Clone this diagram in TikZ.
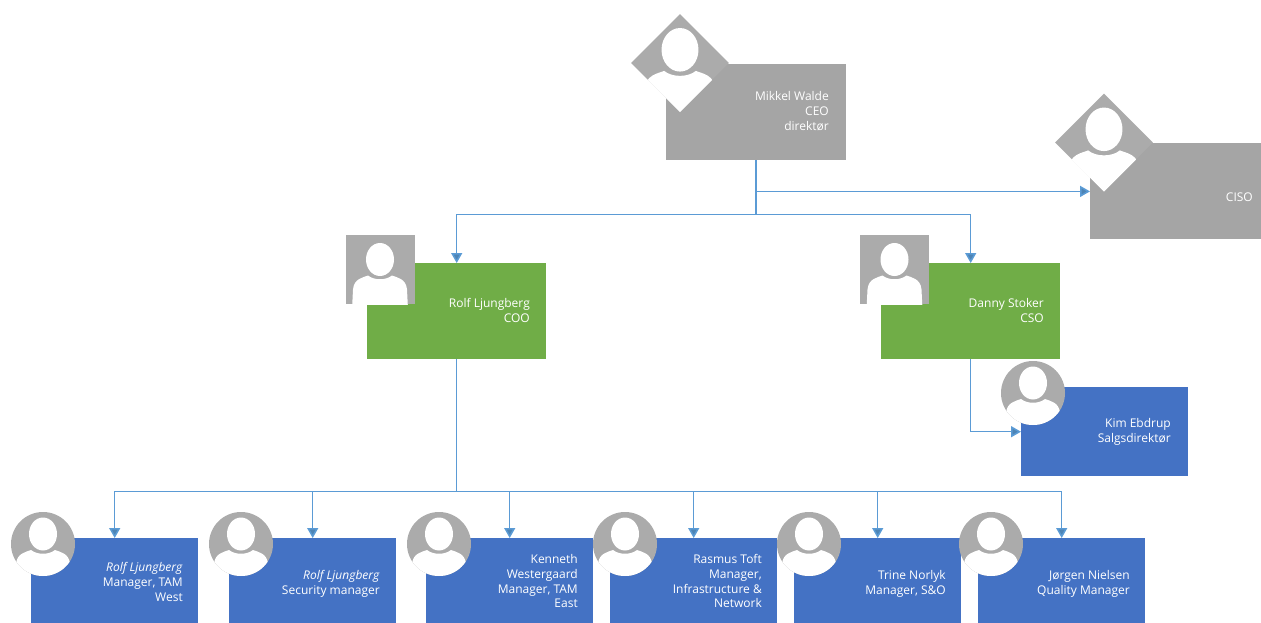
\documentclass[tikz,border=0pt]{standalone}
\usepackage{fontspec}
\setmainfont{Open Sans}
\usetikzlibrary{arrows.meta,shapes.geometric,calc}
\definecolor{bgray}{HTML}{A5A5A5}
\definecolor{bgreen}{HTML}{70AD47}
\definecolor{bblue}{HTML}{4472C4}
\definecolor{avgray}{HTML}{ABABAB}
\definecolor{conn}{HTML}{5B9BD5}
\tikzset{
  x=1pt,y=-1pt,
  box/.style={rectangle,draw=none,inner sep=0pt,anchor=north west},
  graybox/.style={box,fill=bgray,minimum width=180pt,minimum height=96pt},
  cisobox/.style={box,fill=bgray,minimum width=171pt,minimum height=96pt},
  greenbox/.style={box,fill=bgreen,minimum width=179pt,minimum height=96pt},
  bluebox/.style={box,fill=bblue,minimum width=167pt,minimum height=89pt},
  lbl/.style={anchor=north east,align=right,text=white,inner sep=0pt,yshift=-2.5pt,font=\fontsize{12pt}{14.7pt}\selectfont},
  link/.style={draw=conn,line width=1.5pt},
  arrowlink/.style={link,-{Triangle[length=10pt,width=11pt,fill=conn!85!black]}},
  avcircle/.style={circle,fill=avgray,inner sep=0pt,minimum size=64pt},
  avsquare/.style={rectangle,fill=avgray,inner sep=0pt,minimum width=69pt,minimum height=69pt},
  avdiamond/.style={diamond,fill=avgray,inner sep=0pt,minimum width=98pt,minimum height=98pt,aspect=1},
  silhouette/.pic={
    \fill[white] (0,-10) ellipse [x radius=14,y radius=16.5];
    \fill[white] (-28,40) -- (-27,20) .. controls (-26,9) and (-17,8) .. (-12,6)
      .. controls (-6,11) and (6,11) .. (12,6)
      .. controls (17,8) and (26,9) .. (27,20) -- (28,40) -- cycle;
  }
}
\begin{document}
\begin{tikzpicture}
\useasboundingbox (0,0) rectangle (1261,623);
% boxes
\node[graybox] (ceo) at (666,64) {};
\node[cisobox] (ciso) at (1090,143) {};
\node[greenbox] (coo) at (367,263) {};
\node[greenbox] (cso) at (881,263) {};
\node[bluebox] (kim) at (1021,387) {};
\node[bluebox] (m1) at (31,538) {};
\node[bluebox] (m2) at (229,538) {};
\node[bluebox] (m3) at (426,538) {};
\node[bluebox] (m4) at (610,538) {};
\node[bluebox] (m5) at (794,538) {};
\node[bluebox] (m6) at (978,538) {};
% junctions
\coordinate (jceo) at ($(ceo.south)+(0,54)$);
\coordinate (jciso) at ($(ceo.south)+(0,31)$);
\coordinate (jcoo) at ($(coo.south)+(0,132)$);
% connectors
\draw[link] (ceo.south) -- (jceo);
\draw[arrowlink] (jceo) -| (coo.north);
\draw[arrowlink] (jceo) -| (cso.north);
\draw[arrowlink] (jciso) -- (ciso.west |- jciso);
\draw[link] (coo.south) -- (jcoo);
\foreach \t in {m1,m2,m3,m4,m5,m6}
  \draw[arrowlink] (jcoo) -| (\t.north);
\draw[arrowlink] (cso.south) |- (kim.west);
% avatars
\node[avdiamond] (aceo) at (680,63) {};
\begin{scope}
  \clip (aceo.north) -- (aceo.east) -- (aceo.south) -- (aceo.west) -- cycle;
  \pic[scale=1.32] at (aceo.center) {silhouette};
\end{scope}
\node[avdiamond] (aciso) at (1104,142.5) {};
\begin{scope}
  \clip (aciso.north) -- (aciso.east) -- (aciso.south) -- (aciso.west) -- cycle;
  \pic[scale=1.32] at (aciso.center) {silhouette};
\end{scope}
\node[avsquare] (acoo) at (380,269.5) {};
\begin{scope}
  \clip (acoo.south west) rectangle (acoo.north east);
  \pic at (acoo.center) {silhouette};
\end{scope}
\node[avsquare] (acso) at (894.5,269.5) {};
\begin{scope}
  \clip (acso.south west) rectangle (acso.north east);
  \pic at (acso.center) {silhouette};
\end{scope}
\foreach \n/\x/\y in {akim/1033/393,a1/43/544,a2/241/544,a3/439/544,a4/625/544,a5/809/544,a6/991/544}{
  \node[avcircle] (\n) at (\x,\y) {};
  \begin{scope}
    \clip (\n) circle [radius=32];
    \pic at (\n.center) {silhouette};
  \end{scope}
}
% labels
\node[lbl] (tceo) at (829,89) {Mikkel Walde\\CEO\\direktør};
\node[lbl] (tciso) at (1253,190) {CISO};
\node[lbl] (tcoo) at (530,296) {Rolf Ljungberg\\COO};
\node[lbl] (tcso) at (1044,296) {Danny Stoker\\CSO};
\node[lbl] (tkim) at (1171,416) {Kim Ebdrup\\Salgsdirektør};
\node[lbl] (t1) at (183,560) {\textit{Rolf Ljungberg}\\Manager, TAM\\West};
\node[lbl] (t2) at (380,568) {\textit{Rolf Ljungberg}\\Security manager};
\node[lbl] (t3) at (578,552) {Kenneth\\Westergaard\\Manager, TAM\\East};
\node[lbl] (t4) at (762,552) {Rasmus Toft\\Manager,\\Infrastructure \&\\Network};
\node[lbl] (t5) at (946,568) {Trine Norlyk\\Manager, S\&O};
\node[lbl] (t6) at (1130,568) {Jørgen Nielsen\\Quality Manager};
\end{tikzpicture}
\end{document}
